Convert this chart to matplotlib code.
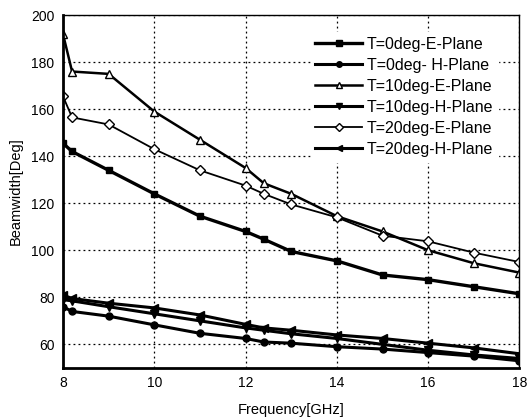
import matplotlib
matplotlib.use("Agg")
import matplotlib.pyplot as plt

plt.rcParams['font.family'] = ['Liberation Sans', 'DejaVu Sans']

freq = [8, 8.2, 9, 10, 11, 12, 12.4, 13, 14, 15, 16, 17, 18]
t0_e = [145.5, 142, 134, 124, 114.5, 108, 104.7, 99.5, 95.5, 89.5, 87.5, 84.5, 81.5]
t0_h = [76, 74, 72, 68.3, 64.7, 62.5, 61, 60.5, 59, 58, 56.5, 55, 53]
t10_e = [192, 176, 175, 159, 147, 135, 128.5, 124, 114.5, 108, 100, 94.5, 90.5]
t10_h = [79, 78.5, 76, 73, 70, 67, 66, 64.5, 62.5, 60, 57.5, 55.5, 54]
t20_e = [165.5, 156.5, 153.5, 143, 134, 127.5, 124, 119.5, 114, 106.2, 103.8, 99, 95]
t20_h = [81, 79.5, 77.5, 75.5, 72.5, 68.5, 67, 66, 64, 62.5, 60.5, 58.5, 56]

labels = ["T=0deg-E-Plane", "T=0deg- H-Plane", "T=10deg-E-Plane",
          "T=10deg-H-Plane", "T=20deg-E-Plane", "T=20deg-H-Plane"]
xticks = [8, 10, 12, 14, 16, 18]
yticks = [60, 80, 100, 120, 140, 160, 180, 200]

fig = plt.figure(figsize=(5.29, 4.19), dpi=100)
ax = fig.add_axes([0.119, 0.122, 0.863, 0.842])

ax.plot(freq, t0_e, '-', color='black', lw=2.4, marker='s', ms=5, mfc='black', label=labels[0])
ax.plot(freq, t0_h, '-', color='black', lw=2.2, marker='o', ms=5, mfc='black', label=labels[1])
ax.plot(freq, t10_e, '-', color='black', lw=1.8, marker='^', ms=6, mfc='white', label=labels[2])
ax.plot(freq, t10_h, '-', color='black', lw=2.2, marker='v', ms=6, mfc='black', label=labels[3])
ax.plot(freq, t20_e, '-', color='black', lw=1.3, marker='D', ms=5, mfc='white', label=labels[4])
ax.plot(freq, t20_h, '-', color='black', lw=2.2, marker='<', ms=6, mfc='black', label=labels[5])

ax.set_xlim(8, 18)
ax.set_ylim(50, 200)
ax.set_xticks(xticks)
ax.set_yticks(yticks)
ax.tick_params(direction='in', length=0, labelsize=10, pad=6)
ax.grid(True, color='black', linestyle=(0, (1.5, 2.5)), linewidth=0.9)

for side in ['left', 'bottom']:
    ax.spines[side].set_linewidth(2.0)
for side in ['top', 'right']:
    ax.spines[side].set_linewidth(1.0)

ax.set_xlabel("Frequency[GHz]", fontsize=10.5, labelpad=9)
ax.set_ylabel("Beamwidth[Deg]", fontsize=10.5, labelpad=6)

leg = ax.legend(loc='upper right', bbox_to_anchor=(0.97, 0.975), frameon=True,
                fontsize=11.5, handlelength=2.9, handletextpad=0.3, markerscale=0.8,
                labelspacing=0.38, borderpad=0.3, edgecolor='white', fancybox=False)
leg.get_frame().set_facecolor('white')
leg.get_frame().set_alpha(1)

fig.savefig("out.png", dpi=100)
